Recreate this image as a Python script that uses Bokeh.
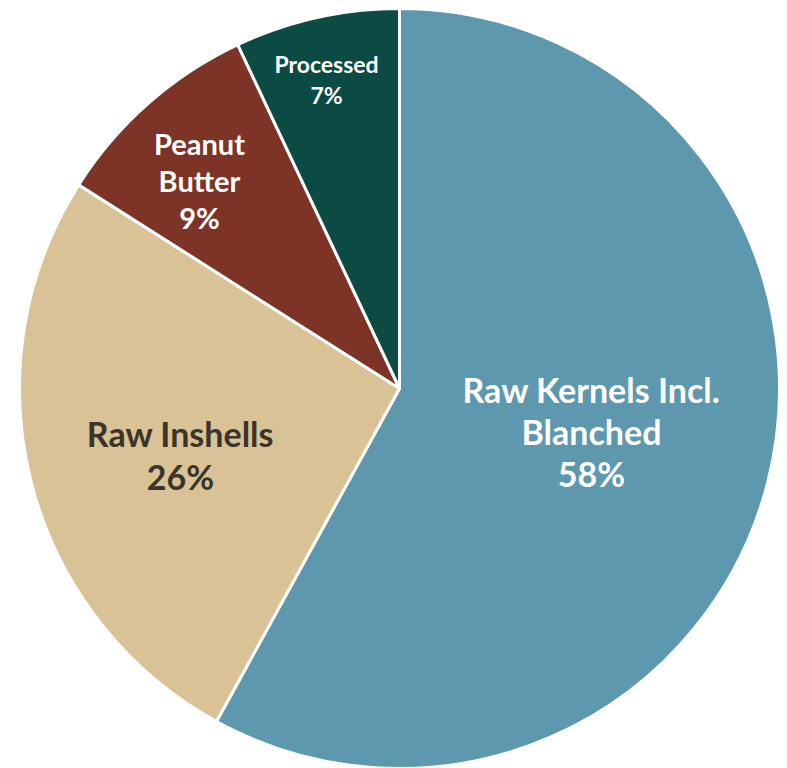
import math

from bokeh.core.properties import value
from bokeh.embed import file_html
from bokeh.models import ColumnDataSource, Range1d
from bokeh.plotting import figure
from bokeh.resources import INLINE

# Shares of peanut use (percent)
categories = ["Raw Kernels Incl. Blanched", "Raw Inshells", "Peanut Butter", "Processed"]
shares = [58, 26, 9, 7]
colors = ["#5E98AE", "#D9C295", "#7D3426", "#0C4A44"]

# Label lines, colour and size per slice
label_lines = [["Raw Kernels Incl.", "Blanched"], ["Raw Inshells"], ["Peanut", "Butter"], ["Processed"]]
label_colors = ["#FFFFFF", "#3A342A", "#FFFFFF", "#FFFFFF"]
label_sizes = [34, 34, 29, 23]
# Label anchor (x, first baseline) in page pixels and the line spacing
label_anchor = [(591, 389), (180, 433), (199, 143), (326, 63)]
label_step = [42, 43, 37, 31]

W, H = 787, 768
CX, CY, R = 399, 388, 380  # pie centre and radius in page pixels


def fy(y_px):
    return H - y_px


# Wedges run clockwise from twelve o'clock
total = sum(shares)
starts, ends = [], []
acc = 0.0
for s in shares:
    a0 = math.pi / 2 - 2 * math.pi * acc / total
    acc += s
    a1 = math.pi / 2 - 2 * math.pi * acc / total
    starts.append(a0)
    ends.append(a1)

src = ColumnDataSource(dict(cat=categories, share=shares, color=colors,
                            start=starts, end=ends))

p = figure(width=W, height=H, output_backend="svg", toolbar_location=None,
           x_range=Range1d(0, W), y_range=Range1d(0, H),
           min_border=0, outline_line_color=None)
p.axis.visible = False
p.grid.visible = False
p.background_fill_color = "white"
p.border_fill_color = "white"

p.wedge(x=CX, y=fy(CY), radius=R, start_angle="start", end_angle="end",
        direction="clock", fill_color="color", line_color="white",
        line_width=3, source=src)

for i, lines in enumerate(label_lines):
    x0, y0 = label_anchor[i]
    texts = lines + [f"{shares[i]}%"]
    ys = [fy(y0 + k * label_step[i]) for k in range(len(texts))]
    p.text(x=[x0] * len(texts), y=ys, text=texts,
           text_font=value("Lato"), text_font_style="bold",
           text_font_size=f"{label_sizes[i]}px", text_color=label_colors[i],
           text_align="center", text_baseline="alphabetic")

open("out.html", "w").write(file_html(p, INLINE))
